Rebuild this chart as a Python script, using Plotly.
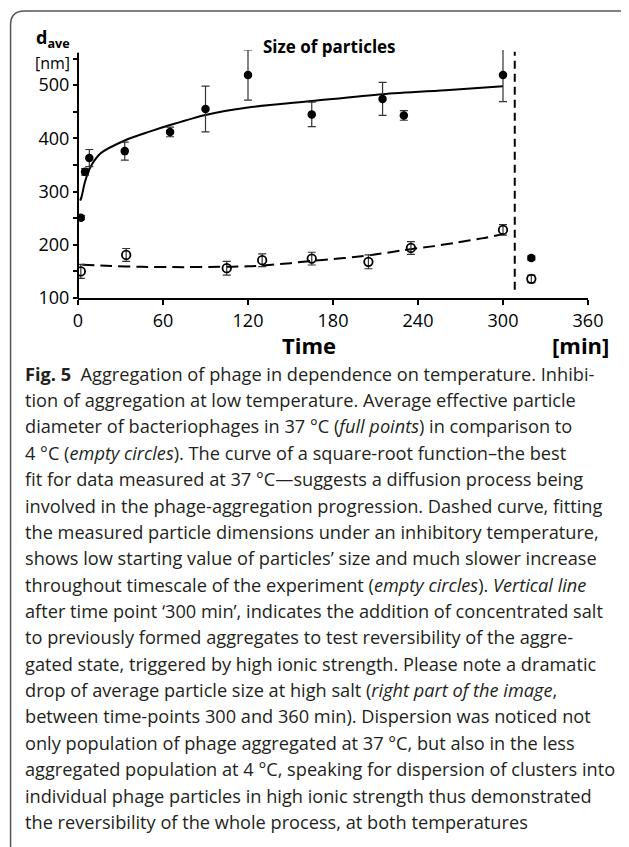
import plotly.graph_objects as go

# ---------------- data ----------------
t37 = [2, 5, 8, 33, 65, 90, 120, 165, 215, 230, 300, 320]
d37 = [251, 337, 363, 376, 412, 455, 519, 445, 474, 443, 519, 175]
e37 = [4, 6, 16, 17, 9, 43, 47, 23, 31, 9, 50, 4]

t4 = [2, 34, 105, 130, 165, 205, 235, 300, 320]
d4 = [150, 181, 156, 171, 174, 168, 194, 228, 136]
e4 = [13, 12, 13, 12, 12, 13, 12, 10, 7]

fit37_t = [1.5, 2.5, 5, 9, 16, 33, 51, 65, 90, 120, 165, 215, 262, 300]
fit37_d = [283, 290, 319, 347, 372, 396, 413, 425, 444, 458, 470, 483, 491, 498]

fit4_t = [3, 20, 45, 75, 100, 120, 135, 150, 165, 180, 195, 213, 230, 250, 267, 285, 300]
fit4_d = [162.5, 160.5, 158.5, 158, 158.5, 159.5, 162, 165.5, 170, 173, 177, 183, 190, 197, 204, 212, 220]

salt_time = 308.3
x_ticks = [0, 60, 120, 180, 240, 300, 360]
y_ticks = [100, 200, 300, 400, 500]

caption_lines = [
    "<b>Fig. 5</b>  Aggregation of phage in dependence on temperature. Inhibi-",
    "tion of aggregation at low temperature. Average effective particle",
    "diameter of bacteriophages in 37 °C (<i>full points</i>) in comparison to",
    "4 °C (<i>empty circles</i>). The curve of a square-root function–the best",
    "fit for data measured at 37 °C—suggests a diffusion process being",
    "involved in the phage-aggregation progression. Dashed curve, fitting",
    "the measured particle dimensions under an inhibitory temperature,",
    "shows low starting value of particles’ size and much slower increase",
    "throughout timescale of the experiment (<i>empty circles</i>). <i>Vertical line</i>",
    "after time point ‘300 min’, indicates the addition of concentrated salt",
    "to previously formed aggregates to test reversibility of the aggre-",
    "gated state, triggered by high ionic strength. Please note a dramatic",
    "drop of average particle size at high salt (<i>right part of the image</i>,",
    "between time-points 300 and 360 min). Dispersion was noticed not",
    "only population of phage aggregated at 37 °C, but also in the less",
    "aggregated population at 4 °C, speaking for dispersion of clusters into",
    "individual phage particles in high ionic strength thus demonstrated",
    "the reversibility of the whole process, at both temperatures",
]

# ---------------- geometry (screen pixels; page body has an 8px margin) ----------------
OFF = 8
W, H = 629 - OFF, 847 - OFF
L, R = 77.5, 588.0
Y100 = 298.3
YMAX = 566
PX_PER_UNIT = 0.5327
T = Y100 - (YMAX - 100) * PX_PER_UNIT
PW, PH = R - L, Y100 - T


def px(x):
    return (x - L) / PW


def py(y):
    return (Y100 - y) / PH


FONT = "Open Sans"
TXT = "#231f20"

fig = go.Figure()

# fitted curves
fig.add_trace(go.Scatter(x=fit37_t, y=fit37_d, mode="lines",
                         line=dict(color="black", width=2, shape="spline", smoothing=0.8),
                         hoverinfo="skip"))
fig.add_trace(go.Scatter(x=fit4_t, y=fit4_d, mode="lines",
                         line=dict(color="black", width=2, dash="12px,6px", shape="spline", smoothing=0.8),
                         hoverinfo="skip"))

# data points
fig.add_trace(go.Scatter(x=t37, y=d37, mode="markers",
                         marker=dict(symbol="circle", size=8.5, color="black"),
                         error_y=dict(type="data", array=e37, color="#333333", thickness=1.2, width=4),
                         name="37 °C"))
fig.add_trace(go.Scatter(x=t4, y=d4, mode="markers",
                         marker=dict(symbol="circle-open", size=8.5, color="black", line=dict(width=1.8)),
                         error_y=dict(type="data", array=e4, color="#333333", thickness=1.2, width=4),
                         name="4 °C"))

shapes = [
    # vertical salt-addition line
    dict(type="line", xref="x", yref="paper", x0=salt_time, x1=salt_time,
         y0=py(290), y1=py(51.7), line=dict(color="black", width=2, dash="8px,5px")),
    # y axis line
    dict(type="line", xref="paper", yref="paper", x0=0, x1=0, y0=py(Y100 + 1), y1=py(52.7),
         line=dict(color="black", width=2)),
]

# rounded frame around whole figure
fx0, fy0, fx1, fy1, rr = 10, 11, 645, 865, 14
path = (f"M {px(fx0)},{py(fy0 + rr)} Q {px(fx0)},{py(fy0)} {px(fx0 + rr)},{py(fy0)} "
        f"L {px(fx1 - rr)},{py(fy0)} Q {px(fx1)},{py(fy0)} {px(fx1)},{py(fy0 + rr)} "
        f"L {px(fx1)},{py(fy1 - rr)} Q {px(fx1)},{py(fy1)} {px(fx1 - rr)},{py(fy1)} "
        f"L {px(fx0 + rr)},{py(fy1)} Q {px(fx0)},{py(fy1)} {px(fx0)},{py(fy1 - rr)} Z")
shapes.append(dict(type="path", xref="paper", yref="paper", path=path,
                   line=dict(color="#555555", width=1.5)))

annotations = [
    dict(text="<b>d<sub>ave</sub></b>", x=px(33), y=py(39), xanchor="left", yanchor="middle",
         font=dict(family=FONT, size=18, color="black")),
    dict(text="[nm]", x=px(32), y=py(63.5), xanchor="left", yanchor="middle",
         font=dict(family=FONT, size=16, color="black")),
    dict(text="<b>Size of particles</b>", x=px(261), y=py(46.5), xanchor="left", yanchor="middle",
         font=dict(family=FONT, size=17, color="black")),
    dict(text="<b>Time</b>", x=px(309), y=py(345), xanchor="center", yanchor="middle",
         font=dict(family=FONT, size=22, color="black")),
    dict(text="<b>[min]</b>", x=px(611), y=py(345), xanchor="right", yanchor="middle",
         font=dict(family=FONT, size=22, color="black")),
]

line0, step = 374, 26.4
for i, ln in enumerate(caption_lines):
    annotations.append(dict(text=ln, x=px(22), y=py(line0 + i * step), xanchor="left", yanchor="middle",
                            font=dict(family=FONT, size=18.2, color=TXT)))

for a in annotations:
    a.update(xref="paper", yref="paper", showarrow=False)

fig.update_layout(
    width=W, height=H,
    margin=dict(l=L - OFF, r=W - (R - OFF), t=T - OFF, b=H - (Y100 - OFF), pad=0, autoexpand=False),
    paper_bgcolor="white", plot_bgcolor="white",
    showlegend=False,
    shapes=shapes, annotations=annotations,
    xaxis=dict(range=[0, 360], tickvals=x_ticks, ticks="outside", ticklen=5, tickwidth=1.5,
               tickcolor="black", showline=True, linewidth=2, linecolor="black",
               showgrid=False, zeroline=False, automargin=False,
               tickfont=dict(family=FONT, size=18, color="black")),
    yaxis=dict(range=[100, YMAX], tickvals=y_ticks, ticks="outside",
               ticklen=4, tickwidth=1.5, tickcolor="black", showline=False,
               showgrid=False, zeroline=False, automargin=False,
               minor=dict(tickvals=[150, 250, 350, 450, 550], ticks="outside", ticklen=4,
                          tickwidth=1.5, tickcolor="black", showgrid=False),
               tickfont=dict(family=FONT, size=18, color="black")),
)

fig.write_html("out.html")
